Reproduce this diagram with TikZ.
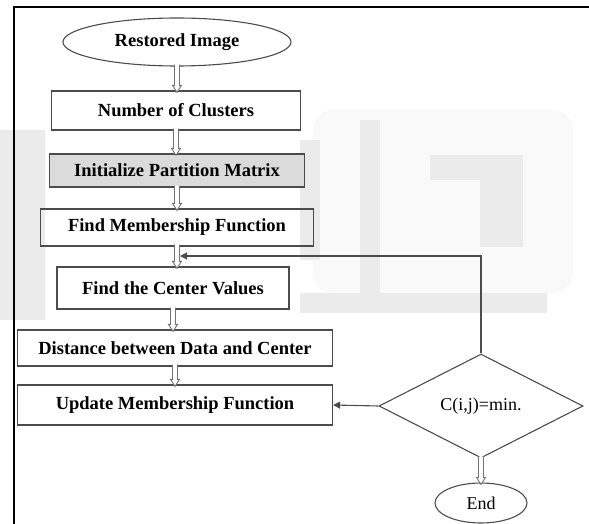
\documentclass[tikz,border=0pt]{standalone}
\usepackage{fontspec}
\setmainfont{Liberation Serif}
\usetikzlibrary{shapes.geometric,arrows.meta,calc}
\begin{document}
\begin{tikzpicture}[x=1pt,y=-1pt,
  stepbox/.style={draw=black!70, line width=1.3pt, inner sep=0pt,
    font=\fontsize{18.5}{20}\selectfont\bfseries},
  terminal/.style={ellipse, draw=black!70, line width=1.1pt, inner sep=0pt},
  decision/.style={diamond, aspect=2, draw=black!70, line width=1.1pt, inner sep=0pt,
    font=\fontsize{18}{20}\selectfont},
  % hollow block arrow running straight down from start to target
  flow/.style={draw=black!55, line width=0.9pt, fill=white, line join=miter,
    to path={let \p1=(\tikztostart), \p2=(\tikztotarget) in
      (\x1-2.5pt,\y1) -- (\x1-2.5pt,\y2+7pt) -- (\x1-4.5pt,\y2+7pt) -- (\x1,\y2)
      -- (\x1+4.5pt,\y2+7pt) -- (\x1+2.5pt,\y2+7pt) -- (\x1+2.5pt,\y1)}},
  back/.style={draw=black!70, line width=1.1pt, -{Triangle[length=7pt,width=7pt]}},
  wm/.style={fill=black!8, draw=none}
]
\useasboundingbox (0,0) rectangle (589,524);

% faint background mark
\fill[black!2.5, rounded corners=20pt] (313,110) rectangle (573,293);
\fill[wm] (0,130) rectangle (45,320);
\fill[wm] (300,140) rectangle (320,260);
\fill[wm] (360,120) rectangle (380,293);
\fill[wm] (300,293) rectangle (547,313);
\fill[wm] (430,155) rectangle (523,180);
\fill[wm] (480,180) rectangle (523,247);

% frame
\draw[black, line width=2pt] (13.5,524) -- (13.5,7) -- (589,7);

% steps
\node[terminal, minimum width=228pt, minimum height=48pt,
  font=\fontsize{18.5}{20}\selectfont\bfseries] (img) at (177,42) {Restored Image};
\node[stepbox, minimum width=249pt, minimum height=39pt] (clu) at (176,110.5) {Number of Clusters};
\node[stepbox, fill=black!14, minimum width=255pt, minimum height=33pt] (ini) at (177,170.5) {Initialize Partition Matrix};
\node[stepbox, minimum width=273pt, minimum height=37pt] (fmf) at (177,227.5) {Find Membership Function};
\node[stepbox, minimum width=232pt, minimum height=42pt] (cen) at (173,288) {Find the Center Values};
\node[stepbox, minimum width=315pt, minimum height=36pt] (dis) at (175,348) {Distance between Data and Center};
\node[stepbox, minimum width=315pt, minimum height=40pt] (upd) at (175,405) {Update Membership Function};
\node[decision, minimum width=204pt, minimum height=104pt] (chk) at (481,406) {C(i,j)=min.};
\node[terminal, minimum width=92pt, minimum height=40pt,
  font=\fontsize{18}{20}\selectfont] (end) at (481,503) {End};

% flow arrows
\draw[flow] ([yshift=2pt]img.south) to ([yshift=-2pt]img.south |- clu.north);
\draw[flow] ([yshift=2pt]clu.south) to ([yshift=-2pt]clu.south |- ini.north);
\draw[flow] ([yshift=2pt]ini.south) to ([yshift=-2pt]ini.south |- fmf.north);
\draw[flow] ([yshift=2pt]fmf.south) to ([yshift=-2pt]fmf.south |- cen.north);
\draw[flow] ([yshift=2pt]cen.south) to ([yshift=-2pt]cen.south |- dis.north);
\draw[flow] ([yshift=2pt]dis.south) to ([yshift=-2pt]dis.south |- upd.north);
\draw[flow] ([yshift=2pt]chk.south) to ([yshift=-2pt]end.north);

% loop back
\coordinate (fb) at (180,256);
\draw[back] (chk.north) |- (fb);
\draw[back] (chk.west) -- (upd.east);
\end{tikzpicture}
\end{document}
